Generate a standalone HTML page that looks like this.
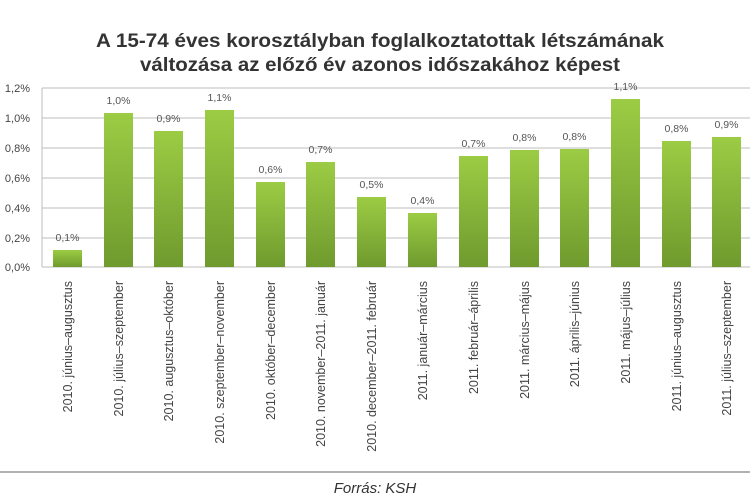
<!DOCTYPE html>
<html><head><meta charset="utf-8"><style>
body{margin:0;background:#fff;}
svg{display:block}
</style></head><body>
<svg width="750" height="500" xmlns="http://www.w3.org/2000/svg" font-family="Liberation Sans, sans-serif">
<defs><linearGradient id="g" x1="0" y1="0" x2="0" y2="1"><stop offset="0" stop-color="#9ccc44"/><stop offset="1" stop-color="#6f9a2e"/></linearGradient></defs>
<text x="380" y="47" text-anchor="middle" font-size="19" font-weight="bold" fill="#333" textLength="568" lengthAdjust="spacingAndGlyphs">A 15-74 éves korosztályban foglalkoztatottak létszámának</text>
<text x="380" y="71" text-anchor="middle" font-size="19" font-weight="bold" fill="#333" textLength="480" lengthAdjust="spacingAndGlyphs">változása az előző év azonos időszakához képest</text>
<g stroke="#bdbdbd" stroke-width="1">
<line x1="42" y1="88" x2="750" y2="88"/><line x1="42" y1="118" x2="750" y2="118"/><line x1="42" y1="148" x2="750" y2="148"/><line x1="42" y1="178" x2="750" y2="178"/><line x1="42" y1="208" x2="750" y2="208"/><line x1="42" y1="238" x2="750" y2="238"/><line x1="42" y1="267" x2="750" y2="267"/><line x1="42" y1="88" x2="42" y2="267"/>
</g>
<g font-size="11" fill="#444" text-anchor="end">
<text x="30" y="92">1,2%</text><text x="30" y="122">1,0%</text><text x="30" y="152">0,8%</text><text x="30" y="182">0,6%</text><text x="30" y="212">0,4%</text><text x="30" y="242">0,2%</text><text x="30" y="271">0,0%</text>
</g>
<g fill="url(#g)">
<rect x="53" y="250" width="29" height="17"/><rect x="104" y="113" width="29" height="154"/><rect x="154" y="131" width="29" height="136"/><rect x="205" y="110" width="29" height="157"/><rect x="256" y="182" width="29" height="85"/><rect x="306" y="162" width="29" height="105"/><rect x="357" y="197" width="29" height="70"/><rect x="408" y="213" width="29" height="54"/><rect x="459" y="156" width="29" height="111"/><rect x="510" y="150" width="29" height="117"/><rect x="560" y="149" width="29" height="118"/><rect x="611" y="99" width="29" height="168"/><rect x="662" y="141" width="29" height="126"/><rect x="712" y="137" width="29" height="130"/>
</g>
<g font-size="10.5" fill="#555" text-anchor="middle">
<text x="67.5" y="241">0,1%</text><text x="118.5" y="104">1,0%</text><text x="168.5" y="122">0,9%</text><text x="219.5" y="101">1,1%</text><text x="270.5" y="173">0,6%</text><text x="320.5" y="153">0,7%</text><text x="371.5" y="188">0,5%</text><text x="422.5" y="204">0,4%</text><text x="473.5" y="147">0,7%</text><text x="524.5" y="141">0,8%</text><text x="574.5" y="140">0,8%</text><text x="625.5" y="90">1,1%</text><text x="676.5" y="132">0,8%</text><text x="726.5" y="128">0,9%</text>
</g>
<g font-size="12.5" fill="#444" text-anchor="end">
<text transform="translate(72,281) rotate(-90)">2010. június–augusztus</text>
<text transform="translate(123,281) rotate(-90)">2010. július–szeptember</text>
<text transform="translate(173,281) rotate(-90)">2010. augusztus–október</text>
<text transform="translate(224,281) rotate(-90)">2010. szeptember–november</text>
<text transform="translate(275,281) rotate(-90)">2010. október–december</text>
<text transform="translate(325,281) rotate(-90)">2010. november–2011. január</text>
<text transform="translate(376,281) rotate(-90)">2010. december–2011. február</text>
<text transform="translate(427,281) rotate(-90)">2011. január–március</text>
<text transform="translate(478,281) rotate(-90)">2011. február–április</text>
<text transform="translate(529,281) rotate(-90)">2011. március–május</text>
<text transform="translate(579,281) rotate(-90)">2011. április–június</text>
<text transform="translate(630,281) rotate(-90)">2011. május–július</text>
<text transform="translate(681,281) rotate(-90)">2011. június–augusztus</text>
<text transform="translate(731,281) rotate(-90)">2011. július–szeptember</text>
</g>
<line x1="0" y1="472" x2="750" y2="472" stroke="#999" stroke-width="1.5"/>
<text x="375" y="493" text-anchor="middle" font-size="15" font-style="italic" fill="#333">Forrás: KSH</text>
</svg>
</body></html>
